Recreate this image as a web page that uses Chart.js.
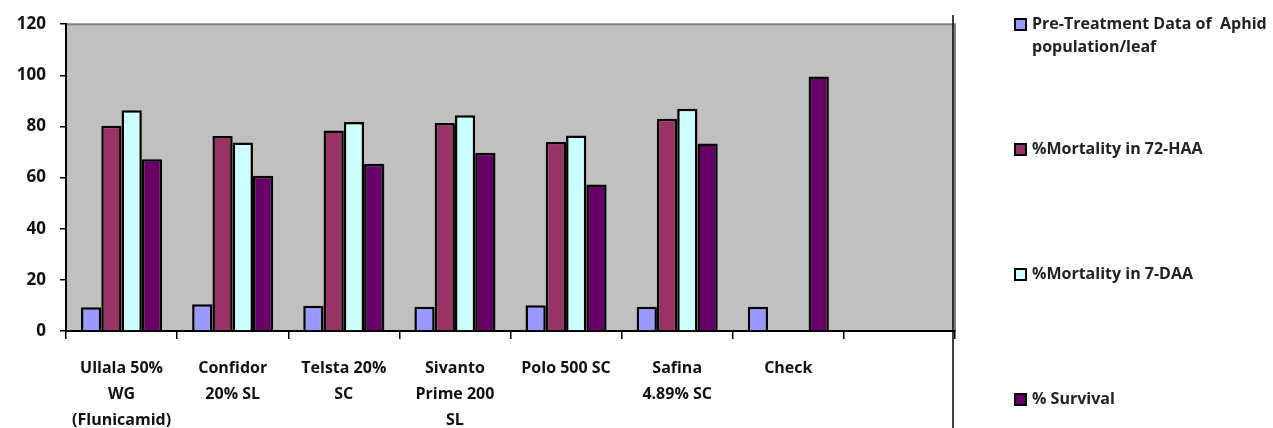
<!DOCTYPE html>
<html>
<head>
<meta charset="utf-8">
<script src="https://cdn.jsdelivr.net/npm/chart.js@4.4.1/dist/chart.umd.min.js"></script>
<style>
  html, body { margin: 0; padding: 0; background: #fff; }
  #wrap { position: relative; width: 1273px; height: 428px; }
  #legend { position: absolute; left: 1014px; top: 0; width: 259px; height: 428px;
            font-family: "Open Sans", sans-serif; font-weight: bold;
            font-size: 16px; color: #222; }
  .item { position: absolute; left: 0; }
  .box { position: absolute; left: 0; width: 9px; height: 9px; border: 2px solid #000; }
  .txt { position: absolute; left: 18px; line-height: 23px; white-space: nowrap; top: -5px; }
</style>
</head>
<body>
<div id="wrap">
  <canvas id="aphidChart" width="1273" height="428"></canvas>
  <div id="legend"></div>
</div>
<script>
const categories = [
  ['Ullala 50%', 'WG', '(Flunicamid)'],
  ['Confidor', '20% SL'],
  ['Telsta 20%', 'SC'],
  ['Sivanto', 'Prime 200', 'SL'],
  'Polo 500 SC',
  ['Safina', '4.89% SC'],
  'Check',
  ''
];
const preTreatment = [9.3, 10.5, 9.9, 9.5, 10.1, 9.5, 9.5, null];
const mortality72 = [80.3, 76.3, 78.4, 81.4, 73.9, 83.0, null, null];
const mortality7d = [86.3, 73.7, 81.7, 84.4, 76.5, 86.9, null, null];
const survival = [67.2, 60.7, 65.4, 69.7, 57.3, 73.3, 99.5, null];
const yTicks = [0, 20, 40, 60, 80, 100, 120];

const seriesNames = ['Pre-Treatment Data of  Aphid\npopulation/leaf', '%Mortality in 72-HAA', '%Mortality in 7-DAA', '% Survival'];
const seriesColors = ['#9999FF', '#993366', '#CCFFFF', '#660066'];
const legendTops = [17, 142, 267, 392];

// plot background, right frame and separator line
const frame = {
  id: 'frame',
  beforeDraw(chart) {
    const { ctx, chartArea: a } = chart;
    ctx.save();
    ctx.fillStyle = '#C0C0C0';
    ctx.fillRect(a.left, a.top, a.right - a.left, a.bottom - a.top);
    ctx.strokeStyle = '#808080';
    ctx.lineWidth = 2;
    ctx.beginPath();
    ctx.moveTo(a.left, a.top);
    ctx.lineTo(a.right, a.top);
    ctx.lineTo(a.right, a.bottom);
    ctx.stroke();
    ctx.restore();
  },
  afterDraw(chart) {
    const { ctx, chartArea: a } = chart;
    ctx.save();
    ctx.strokeStyle = '#000';
    ctx.lineWidth = 1.5;
    ctx.beginPath();
    ctx.moveTo(a.right - 2, 15);
    ctx.lineTo(a.right - 2, 428);
    ctx.stroke();
    ctx.restore();
  }
};

const ctx = document.getElementById('aphidChart').getContext('2d');
const aphidChart = new Chart(ctx, {
  type: 'bar',
  data: {
    labels: categories,
    datasets: [preTreatment, mortality72, mortality7d, survival].map((d, i) => ({
      label: seriesNames[i],
      data: d,
      backgroundColor: seriesColors[i],
      borderColor: '#000',
      borderWidth: 2.5,
      borderSkipped: 'bottom',
      categoryPercentage: 0.73,
      barPercentage: 1.0
    }))
  },
  options: {
    responsive: false,
    animation: false,
    layout: { padding: { left: 0, right: 318, top: 20, bottom: 0 } },
    plugins: {
      legend: { display: false },
      tooltip: { enabled: false }
    },
    scales: {
      x: {
        grid: { drawOnChartArea: false, drawTicks: true, tickLength: 8, color: '#000', lineWidth: 1.5, offset: true },
        border: { color: '#000', width: 2 },
        ticks: {
          color: '#111', padding: 16, maxRotation: 0, autoSkip: false,
          font: { family: '"Open Sans", sans-serif', weight: 'bold', size: 16, lineHeight: '26px' }
        },
        afterFit(scale) { scale.height = 97; }
      },
      y: {
        min: 0, max: 120,
        afterBuildTicks(scale) { scale.ticks = yTicks.map(v => ({ value: v })); },
        grid: { drawOnChartArea: false, drawTicks: true, tickLength: 6, color: '#000', lineWidth: 1.5 },
        border: { color: '#000', width: 2 },
        ticks: {
          color: '#111', padding: 14,
          font: { family: '"Open Sans", sans-serif', weight: 'bold', size: 17 }
        },
        afterFit(scale) { scale.width = 66; }
      }
    }
  },
  plugins: [frame]
});

// legend built from the datasets
const legend = document.getElementById('legend');
aphidChart.data.datasets.forEach((ds, i) => {
  const item = document.createElement('div');
  item.className = 'item';
  item.style.top = legendTops[i] + 'px';
  const box = document.createElement('div');
  box.className = 'box';
  box.style.top = '1px';
  box.style.background = ds.backgroundColor;
  const txt = document.createElement('div');
  txt.className = 'txt';
  txt.innerHTML = ds.label.replace('\n', '<br>').replace('  ', '&nbsp;&nbsp;');
  item.appendChild(box);
  item.appendChild(txt);
  legend.appendChild(item);
});
</script>
</body>
</html>
